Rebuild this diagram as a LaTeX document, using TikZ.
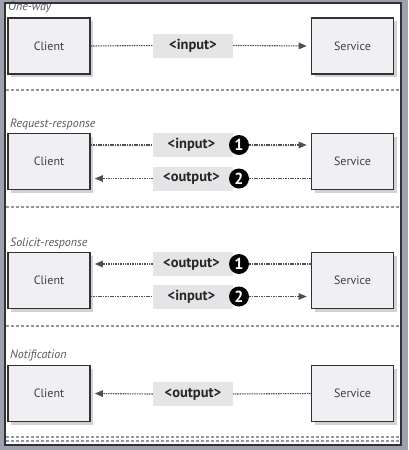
\documentclass[tikz,border=0pt]{standalone}
\usepackage{fontspec}
\setmainfont{PT Sans}
\usetikzlibrary{arrows.meta,shadows}
\definecolor{outerbg}{RGB}{158,161,174}
\definecolor{boxfill}{RGB}{240,239,243}
\definecolor{lblfill}{RGB}{229,229,231}
\definecolor{edge}{RGB}{50,50,52}
\definecolor{dotc}{RGB}{80,80,82}
\definecolor{sepc}{RGB}{150,150,155}
\tikzset{
  partybox/.style={draw=edge, line width=1.6pt, fill=boxfill, minimum width=82pt, minimum height=56pt, inner sep=0pt,
    font=\fontsize{12}{14}\selectfont, text=black!75,
    drop shadow={shadow xshift=3pt, shadow yshift=-3pt, fill=black!22, opacity=0.8}},
  msgbox/.style={fill=lblfill, minimum width=80pt, minimum height=24pt, inner sep=0pt,
    font=\bfseries\fontsize{14.5}{16}\selectfont, text=black!85},
  numdot/.style={circle, fill=black, minimum size=20pt, inner sep=0pt, text=white, font=\bfseries\fontsize{16}{17}\selectfont},
  dl/.style={draw=dotc, line width=1.1pt, dash pattern=on 1.5pt off 0.9pt},
  tip/.style={-{Triangle[length=8pt,width=6.5pt]}, shorten >=4pt},
  sectlbl/.style={anchor=west, inner sep=0pt, font=\itshape\fontsize{12}{14}\selectfont, text=black!65},
  sep/.style={draw=sepc, line width=1.1pt, dash pattern=on 3pt off 2pt}
}
\begin{document}
\begin{tikzpicture}[x=1pt,y=-1pt]
\useasboundingbox (0,0) rectangle (408,450);
\fill[outerbg] (0,0) rectangle (408,450);
\fill[white] (5,3) rectangle (401,445);

% section labels
\node[sectlbl] (t1) at (8,7.5) {One-way};
\node[sectlbl] (t2) at (10,124) {Request-response};
\node[sectlbl] (t3) at (10,243) {Solicit-response};
\node[sectlbl] (t4) at (10,355) {Notification};

% One-way
\node[partybox] (c1) at (49,46) {Client};
\node[partybox] (s1) at (352.5,46) {Service};
\node[msgbox] (m1) at (193,45.5) {<input>};
\draw[dl] (c1.east) -- (m1.west);
\draw[dl,tip] (m1.east) -- (s1.west);

% Request-response
\node[partybox] (c2) at (49,161.5) {Client};
\node[partybox] (s2) at (352.5,161.5) {Service};
\node[msgbox] (m2a) at (193,145) {\hspace*{-3pt}<input>};
\node[msgbox] (m2b) at (193,178.5) {\hspace*{-3pt}<output>};
\node[numdot] (n2a) at (239,145) {1};
\node[numdot] (n2b) at (239,178.5) {2};
\draw[dl] (c2.east|-m2a) -- (m2a.west);
\draw[dl,tip] (n2a.east) -- (s2.west|-n2a);
\draw[dl] (s2.west|-n2b) -- (n2b.east);
\draw[dl,tip] (m2b.west) -- (c2.east|-m2b);

% Solicit-response
\node[partybox] (c3) at (49,280.5) {Client};
\node[partybox] (s3) at (352.5,280.5) {Service};
\node[msgbox] (m3a) at (193,264) {\hspace*{-3pt}<output>};
\node[msgbox] (m3b) at (193,296.5) {\hspace*{-3pt}<input>};
\node[numdot] (n3a) at (239,264) {1};
\node[numdot] (n3b) at (239,296.5) {2};
\draw[dl] (s3.west|-n3a) -- (n3a.east);
\draw[dl,tip] (m3a.west) -- (c3.east|-m3a);
\draw[dl] (c3.east|-m3b) -- (m3b.west);
\draw[dl,tip] (n3b.east) -- (s3.west|-n3b);

% Notification
\node[partybox] (c4) at (49,393.5) {Client};
\node[partybox] (s4) at (352.5,393.5) {Service};
\node[msgbox] (m4) at (193,394) {<output>};
\draw[dl] (s4.west) -- (m4.east);
\draw[dl,tip] (m4.west) -- (c4.east);

% separators
\draw[sep] (6,90) -- (400,90);
\draw[sep] (6,207) -- (400,207);
\draw[sep] (6,326) -- (400,326);
\draw[sep] (6,437) -- (400,437);
\draw[sep] (6,441) -- (400,441);

% panel border
\draw[edge, line width=1.4pt] (5,3) rectangle (401,445);
\end{tikzpicture}
\end{document}
